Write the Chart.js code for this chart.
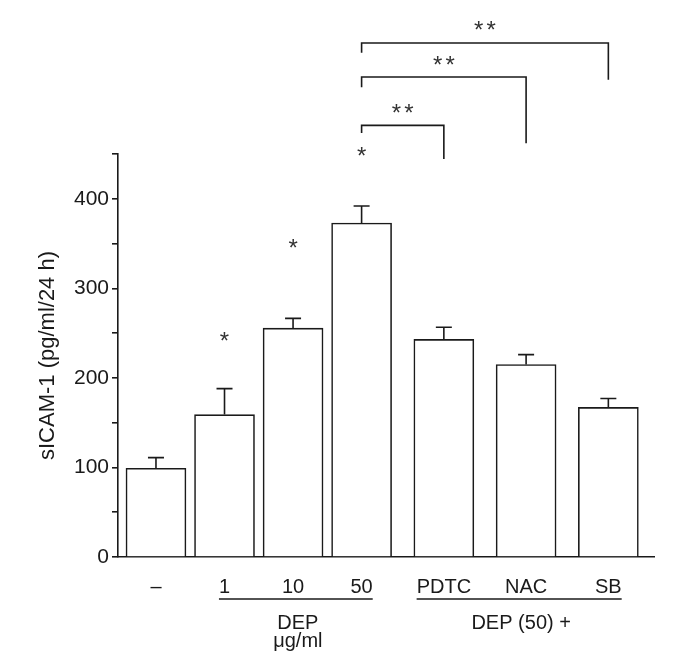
<!DOCTYPE html>
<html>
<head>
<meta charset="utf-8">
<script src="https://cdn.jsdelivr.net/npm/chart.js@4"></script>
<style>
html, body { margin: 0; padding: 0; background: #fff; }
#wrap { width: 680px; height: 664px; }
</style>
</head>
<body>
<div id="wrap"><canvas id="chart"></canvas></div>
<script>
const labels = ['–', '1', '10', '50', 'PDTC', 'NAC', 'SB'];
const xPos = [0, 5, 10, 15, 21, 27, 33];
const means = [99, 159, 255.5, 373, 243, 215, 167];
const sems = [12, 29, 11, 19, 13.5, 11, 10];

// single stars (vs control)
const starBars = [1, 2, 3];
const starY = [248, 351.5, 455];

// brackets from the 50 bar to PDTC / NAC / SB
const bracketFrom = 3;
const bracketTo = [4, 5, 6];
const bracketY = [482, 536, 574];
const bracketLeftEnd = [473.5, 524.5, 563];
const bracketRightEnd = [444.5, 462, 533];
const bracketStarY = [503, 556, 595.5];

// groups under the axis
const groupStart = [1, 4];
const groupEnd = [3, 6];
const groupNames = [['DEP', 'μg/ml'], ['DEP (50) +']];

const ink = '#1a1a1a';
const fontFamily = '"Liberation Sans", Arial, Helvetica, sans-serif';

const extras = {
    id: 'extras',
    afterDraw(chart) {
        const ctx = chart.ctx;
        const xs = chart.scales.x;
        const ys = chart.scales.y;
        const px = (i) => xs.getPixelForValue(xPos[i]);
        const py = (v) => ys.getPixelForValue(v);
        ctx.save();
        ctx.strokeStyle = ink;
        ctx.lineWidth = 1.6;

        // error bars (upper only)
        for (let i = 0; i < means.length; i++) {
            const x = px(i);
            const yb = py(means[i]);
            const yt = py(means[i] + sems[i]);
            ctx.beginPath();
            ctx.moveTo(x, yb);
            ctx.lineTo(x, yt);
            ctx.moveTo(x - 8, yt);
            ctx.lineTo(x + 8, yt);
            ctx.stroke();
        }

        // brackets
        for (let k = 0; k < bracketTo.length; k++) {
            const x1 = px(bracketFrom);
            const x2 = px(bracketTo[k]);
            const y = py(bracketY[k]);
            ctx.beginPath();
            ctx.moveTo(x1, py(bracketLeftEnd[k]));
            ctx.lineTo(x1, y);
            ctx.lineTo(x2, y);
            ctx.lineTo(x2, py(bracketRightEnd[k]));
            ctx.stroke();
        }

        // stars
        ctx.fillStyle = '#333';
        ctx.font = '24px ' + fontFamily;
        ctx.textAlign = 'center';
        ctx.textBaseline = 'alphabetic';
        for (let k = 0; k < starBars.length; k++) {
            ctx.fillText('*', px(starBars[k]), py(starY[k]) + 14);
        }
        for (let k = 0; k < bracketTo.length; k++) {
            const xm = (px(bracketFrom) + px(bracketTo[k])) / 2;
            ctx.fillText('*', xm - 6.2, py(bracketStarY[k]) + 14);
            ctx.fillText('*', xm + 6.2, py(bracketStarY[k]) + 14);
        }

        // group lines and names
        ctx.fillStyle = ink;
        ctx.font = '20px ' + fontFamily;
        ctx.textBaseline = 'middle';
        const base = chart.chartArea.bottom;
        for (let g = 0; g < groupStart.length; g++) {
            const a = px(groupStart[g]) - ctx.measureText(labels[groupStart[g]]).width / 2;
            const b = px(groupEnd[g]) + ctx.measureText(labels[groupEnd[g]]).width / 2;
            ctx.beginPath();
            ctx.moveTo(a, base + 42);
            ctx.lineTo(b, base + 42);
            ctx.stroke();
            const mid = (a + b) / 2 + 2;
            groupNames[g].forEach((t, j) => {
                ctx.fillText(t, mid, base + 66 + j * 18);
            });
        }
        ctx.restore();
    }
};

new Chart(document.getElementById('chart'), {
    type: 'bar',
    data: {
        datasets: [{
            data: xPos.map((x, i) => ({ x: x, y: means[i] })),
            backgroundColor: '#fff',
            borderColor: ink,
            borderWidth: 1.6,
            barThickness: 60,
        }]
    },
    options: {
        responsive: true,
        maintainAspectRatio: false,
        animation: false,
        layout: { padding: { top: 154, right: 26, left: 0, bottom: 0 } },
        plugins: { legend: { display: false }, tooltip: { enabled: false } },
        scales: {
            x: {
                type: 'linear',
                offset: false,
                min: -2.77,
                max: 36.33,
                afterBuildTicks: (scale) => { scale.ticks = xPos.map(v => ({ value: v })); },
                afterFit: (scale) => { scale.height = 107; },
                grid: { display: false, offset: false },
                border: { display: true, color: ink, width: 1.6 },
                ticks: {
                    autoSkip: false,
                    maxRotation: 0,
                    padding: 10,
                    color: ink,
                    font: { family: fontFamily, size: 20 },
                    callback: (v, i) => labels[i],
                },
            },
            y: {
                min: 0,
                max: 450,
                afterFit: (scale) => { scale.width = 118; },
                grid: { drawOnChartArea: false, drawTicks: true, tickLength: 6, color: ink, lineWidth: 1.6 },
                border: { display: true, color: ink, width: 1.6 },
                ticks: {
                    stepSize: 50,
                    padding: 3,
                    color: ink,
                    font: { family: fontFamily, size: 21 },
                    callback: (v) => (v % 100 === 0 ? v : ''),
                },
                title: {
                    display: true,
                    text: 'sICAM-1 (pg/ml/24 h)',
                    color: ink,
                    font: { family: fontFamily, size: 22 },
                    padding: { top: 35, bottom: 0 },
                },
            },
        },
    },
    plugins: [extras],
});
</script>
</body>
</html>
